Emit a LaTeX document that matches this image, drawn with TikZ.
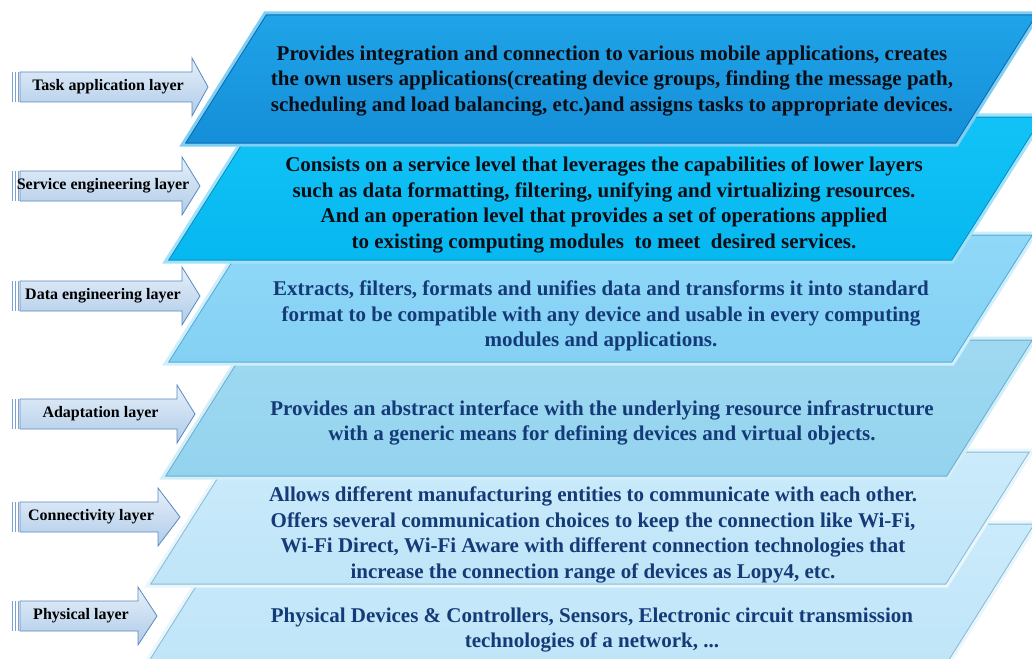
\documentclass[tikz,border=0pt]{standalone}
\usepackage{fontspec}
\setmainfont{Liberation Serif}
\definecolor{txtdark}{HTML}{0D0D16}
\definecolor{txtblue}{HTML}{143A78}
\definecolor{aTop}{HTML}{E6F0FA}
\definecolor{aBot}{HTML}{AFCBE8}
\definecolor{aEdge}{HTML}{5A89BF}
\definecolor{lAt}{HTML}{20A4E8}\definecolor{lAb}{HTML}{148ED8}\definecolor{lAd}{HTML}{0A68AE}\definecolor{lAl}{HTML}{7FCEF3}
\definecolor{lBt}{HTML}{12C3F7}\definecolor{lBb}{HTML}{06B8F0}\definecolor{lBd}{HTML}{0A8CC2}\definecolor{lBl}{HTML}{9FE3FA}
\definecolor{lCt}{HTML}{90D8F8}\definecolor{lCb}{HTML}{84D1F4}\definecolor{lCd}{HTML}{55AAD3}\definecolor{lCl}{HTML}{D0EFFC}
\definecolor{lDt}{HTML}{9FD9F1}\definecolor{lDb}{HTML}{94D3EE}\definecolor{lDd}{HTML}{6AAECF}\definecolor{lDl}{HTML}{D2EEF9}
\definecolor{lEt}{HTML}{CBEBFB}\definecolor{lEb}{HTML}{BFE5F8}\definecolor{lEd}{HTML}{8DB9D3}\definecolor{lEl}{HTML}{E8F6FD}
\tikzset{
  arrowbox/.style={top color=aTop, bottom color=aBot, draw=aEdge, line width=0.8pt, line join=miter},
  stripe/.style={fill=aEdge!80},
  arrowlabel/.style={font=\fontsize{16}{18}\selectfont\bfseries, text=black, inner sep=0pt},
  layertext/.style={font=\fontsize{21}{25.5}\selectfont\bfseries, align=center, inner sep=0pt},
}
% layer: #1..#4 corners TL TR BR BL, #5 colour prefix
\newcommand\drawlayer[5]{%
  \path[top color=#5t, bottom color=#5b] #1 -- #2 -- #3 -- #4 -- cycle;
  \begin{scope}
    \clip #1 -- #2 -- #3 -- #4 -- cycle;
    \draw[#5d, line width=5pt, line join=miter] #1 -- #2 -- #3 -- #4 -- cycle;
  \end{scope}
  \draw[#5l, line width=3pt, line join=miter] #1 -- #2 -- #3 -- #4 -- cycle;
}
% arrow: #1 centre y, #2 head start x, #3 tip x, #4 name, #5 text
\newcommand\lyrarrow[5]{%
  \path[arrowbox] (20,#1-15) -- (#2,#1-15) -- (#2,#1-29) -- (#3,#1) -- (#2,#1+29) -- (#2,#1+15) -- (20,#1+15) -- cycle;
  \fill[stripe] (11.5,#1-15) rectangle (13,#1+15);
  \fill[stripe] (14.5,#1-15) rectangle (16,#1+15);
  \fill[stripe] (17.5,#1-15) rectangle (19,#1+15);
  \node[arrowlabel] (#4) at ({(24+#2)/2},#1) {#5};
}
\begin{document}
\begin{tikzpicture}[x=1pt,y=-1pt]
\useasboundingbox[fill=white] (0,0) rectangle (1032,658);
% layers, bottom first
\drawlayer{(234,522)}{(1038,522)}{(950,662)}{(146,662)}{lE}
\drawlayer{(233,450)}{(1033,450)}{(947,586)}{(147,586)}{lE}
\drawlayer{(250,338)}{(1036,338)}{(948,478)}{(162,478)}{lD}
\drawlayer{(248,233)}{(1036,233)}{(953,364)}{(165,364)}{lC}
\drawlayer{(258,115)}{(1046,115)}{(953,262)}{(165,262)}{lB}
\drawlayer{(265,13)}{(1040,13)}{(957,145)}{(182,145)}{lA}
% layer texts
\node[layertext, text=txtdark] (t1) at (612,81) {Provides integration and connection to various mobile applications, creates\\the own users applications(creating device groups, finding the message path,\\scheduling and load balancing, etc.)and assigns tasks to appropriate devices.};
\node[layertext, text=txtdark] (t2) at (604,205) {Consists on a service level that leverages the capabilities of lower layers\\such as data formatting, filtering, unifying and virtualizing resources.\\And an operation level that provides a set of operations applied\\to existing computing modules\ \ to meet\ \ desired services.};
\node[layertext, text=txtblue] (t3) at (601,316) {Extracts, filters, formats and unifies data and transforms it into standard\\format to be compatible with any device and usable in every computing\\modules and applications.};
\node[layertext, text=txtblue] (t4) at (602,423) {Provides an abstract interface with the underlying resource infrastructure\\with a generic means for defining devices and virtual objects.};
\node[layertext, text=txtblue] (t5) at (593,535) {Allows different manufacturing entities to communicate with each other.\\Offers several communication choices to keep the connection like Wi-Fi,\\Wi-Fi Direct, Wi-Fi Aware with different connection technologies that\\increase the connection range of devices as Lopy4, etc.};
\node[layertext, text=txtblue] (t6) at (592,630) {Physical Devices \& Controllers, Sensors, Electronic circuit transmission\\technologies of a network, ...};
% left arrows
\lyrarrow{87}{192}{208}{a1}{Task application layer}
\lyrarrow{186}{182}{200}{a2}{Service engineering layer}
\lyrarrow{296}{182}{200}{a3}{Data engineering layer}
\lyrarrow{414}{177}{195}{a4}{Adaptation layer}
\lyrarrow{517}{158}{180}{a5}{Connectivity layer}
\lyrarrow{616}{138}{157}{a6}{Physical layer}
\end{tikzpicture}
\end{document}
